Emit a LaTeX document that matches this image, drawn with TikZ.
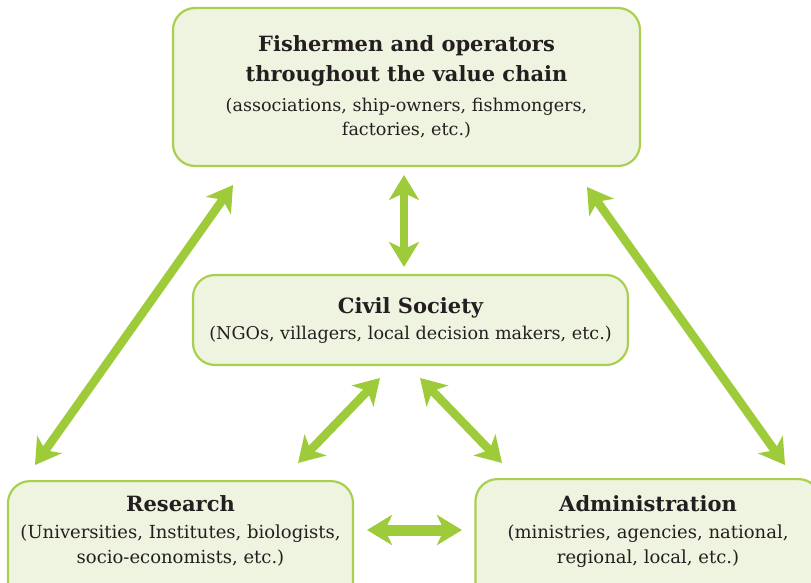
\documentclass[tikz,border=0pt]{standalone}
\usepackage{fontspec}
\setmainfont{DejaVu Serif}
\usetikzlibrary{arrows.meta}
\definecolor{leafgreen}{HTML}{9ECB3A}
\definecolor{boxline}{HTML}{A8D04E}
\definecolor{boxfill}{HTML}{EFF4E0}
\definecolor{inkgray}{HTML}{231F20}
\begin{document}
\begin{tikzpicture}[x=1pt,y=-1pt,
        actor/.style={draw=boxline,fill=boxfill,line width=2.2pt,rounded corners=22pt,
            align=center,text=inkgray,inner xsep=6pt,font=\fontsize{17.6}{24}\selectfont},
        link/.style={leafgreen,line width=8.5pt,
            {Stealth[length=25pt,width=30pt,inset=7pt]}-{Stealth[length=25pt,width=30pt,inset=7pt]}}]
            \useasboundingbox (0,0) rectangle (811,582);
            \node[actor,minimum width=467pt,minimum height=158pt] (fish) at (406.5,87)
                {{\fontsize{21}{24}\selectfont\bfseries Fishermen and operators}\\[6pt]
                 {\fontsize{21}{24}\selectfont\bfseries throughout the value chain}\\[6pt]
                 (associations, ship-owners, fishmongers,\\
                 factories, etc.)};
            \node[actor,minimum width=435pt,minimum height=90pt] (civil) at (410.5,320)
                {{\fontsize{21}{24}\selectfont\bfseries Civil Society}\\[2pt]
                 (NGOs, villagers, local decision makers, etc.)};
            \node[actor,anchor=north,minimum width=345pt,inner ysep=14pt,text depth=45pt,
                font=\fontsize{18}{25}\selectfont] (research) at (180.5,480)
                {{\fontsize{21}{24}\selectfont\bfseries Research}\\[2pt]
                 (Universities, Institutes, biologists,\\
                 socio-economists, etc.)};
            \node[actor,anchor=north,minimum width=345pt,inner ysep=16pt,text depth=45pt,
                font=\fontsize{18}{25}\selectfont] (admin) at (648,478)
                {{\fontsize{21}{24}\selectfont\bfseries Administration}\\[2pt]
                 (ministries, agencies, national,\\
                 regional, local, etc.)};
            \coordinate (fishL) at (233,185);
            \coordinate (fishC) at (404,175);
            \coordinate (fishR) at (587,187);
            \coordinate (civilN) at (404,267);
            \coordinate (civilL) at (380,378);
            \coordinate (civilR) at (420,378);
            \coordinate (resT) at (35,465);
            \coordinate (resC) at (298,463);
            \coordinate (resR) at (367,530);
            \coordinate (admL) at (462,530);
            \coordinate (admC) at (502,463);
            \coordinate (admT) at (785,465);
            \draw[link] (fishL) -- (resT);
            \draw[link] (fishC) -- (civilN);
            \draw[link] (fishR) -- (admT);
            \draw[link] (civilL) -- (resC);
            \draw[link] (civilR) -- (admC);
            \draw[link,line width=11pt] (resR) -- (admL);
        \end{tikzpicture}
\end{document}
